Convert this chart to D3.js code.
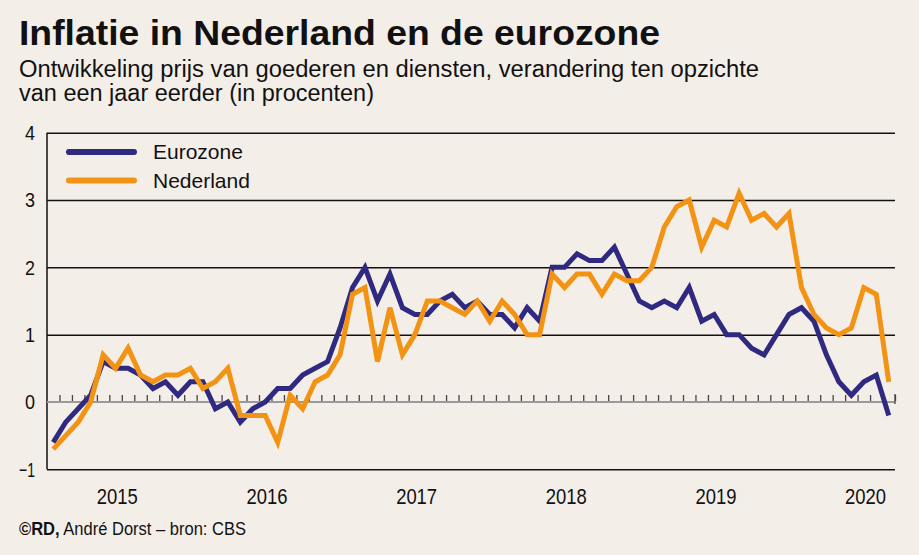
<!DOCTYPE html>
<html>
<head>
<meta charset="utf-8">
<script src="https://cdn.jsdelivr.net/npm/d3@7"></script>
<style>
  html, body { margin: 0; padding: 0; background: #f4eee9; }
  svg { display: block; }
  text { font-family: "Liberation Sans", Arial, sans-serif; fill: #111; }
</style>
</head>
<body>
<svg id="chart" width="919" height="555"></svg>
<script>
// ---- data ----
const months = d3.timeMonth.range(new Date(2015, 0, 1), new Date(2020, 8, 1)); // Jan 2015 .. Aug 2020
const yearLabels = ["2015", "2016", "2017", "2018", "2019", "2020"];
const yTicks = [-1, 0, 1, 2, 3, 4];
const eurozone = [
  -0.6, -0.3, -0.1, 0.1, 0.6, 0.5, 0.5, 0.4, 0.2, 0.3, 0.1, 0.3,
  0.3, -0.1, 0.0, -0.3, -0.1, 0.0, 0.2, 0.2, 0.4, 0.5, 0.6, 1.1,
  1.7, 2.0, 1.5, 1.9, 1.4, 1.3, 1.3, 1.5, 1.6, 1.4, 1.5, 1.3,
  1.3, 1.1, 1.4, 1.2, 2.0, 2.0, 2.2, 2.1, 2.1, 2.3, 1.9, 1.5,
  1.4, 1.5, 1.4, 1.7, 1.2, 1.3, 1.0, 1.0, 0.8, 0.7, 1.0, 1.3,
  1.4, 1.2, 0.7, 0.3, 0.1, 0.3, 0.4, -0.2
];
const nederland = [
  -0.7, -0.5, -0.3, 0.0, 0.7, 0.5, 0.8, 0.4, 0.3, 0.4, 0.4, 0.5,
  0.2, 0.3, 0.5, -0.2, -0.2, -0.2, -0.6, 0.1, -0.1, 0.3, 0.4, 0.7,
  1.6, 1.7, 0.6, 1.4, 0.7, 1.0, 1.5, 1.5, 1.4, 1.3, 1.5, 1.2,
  1.5, 1.3, 1.0, 1.0, 1.9, 1.7, 1.9, 1.9, 1.6, 1.9, 1.8, 1.8,
  2.0, 2.6, 2.9, 3.0, 2.3, 2.7, 2.6, 3.1, 2.7, 2.8, 2.6, 2.8,
  1.7, 1.3, 1.1, 1.0, 1.1, 1.7, 1.6, 0.3
];
const seriesNames = ["Eurozone", "Nederland"];
const seriesColors = ["#2f2a7f", "#f39314"];

// ---- layout ----
const svg = d3.select("#chart");
const W = 919, H = 555;
const plotL = 47, plotR = 895, plotT = 132.7, plotB = 469.3;

svg.append("rect").attr("width", W).attr("height", H).attr("fill", "#f4eee9");

const x = d3.scaleLinear().domain([-0.5, months.length - 0.5]).range([plotL, plotR]);
const y = d3.scaleLinear().domain([-1, 4]).range([plotB, plotT]);

// titles
svg.append("text").attr("x", 19).attr("y", 45)
  .attr("font-size", 35).attr("font-weight", 700)
  .attr("textLength", 641).attr("lengthAdjust", "spacingAndGlyphs")
  .text("Inflatie in Nederland en de eurozone");
svg.append("text").attr("x", 19).attr("y", 77)
  .attr("font-size", 23)
  .attr("textLength", 740).attr("lengthAdjust", "spacingAndGlyphs")
  .text("Ontwikkeling prijs van goederen en diensten, verandering ten opzichte");
svg.append("text").attr("x", 19).attr("y", 101)
  .attr("font-size", 23)
  .attr("textLength", 355).attr("lengthAdjust", "spacingAndGlyphs")
  .text("van een jaar eerder (in procenten)");

// gridlines + y labels
const yAxis = d3.axisLeft(y).tickValues(yTicks).tickSize(-(plotR - plotL)).tickPadding(12)
  .tickFormat(d3.format("d"));
const gy = svg.append("g").attr("transform", `translate(${plotL},0)`).call(yAxis);
gy.select(".domain").remove();
gy.selectAll(".tick line").attr("stroke-width", 1.5)
  .attr("stroke", d => d === 0 ? "none" : "#111");
gy.selectAll(".tick text").attr("font-size", 21).attr("fill", "#111")
  .attr("font-family", '"Liberation Sans", Arial, sans-serif')
  .attr("textLength", d => d < 0 ? 16 : 10).attr("lengthAdjust", "spacingAndGlyphs");

// left axis line
svg.append("line").attr("x1", plotL).attr("x2", plotL).attr("y1", y(4)).attr("y2", y(-1))
  .attr("stroke", "#111").attr("stroke-width", 1.5);

// zero line
svg.append("line").attr("x1", plotL).attr("x2", plotR).attr("y1", y(0)).attr("y2", y(0))
  .attr("stroke", "#9a9a9a").attr("stroke-width", 2);

// monthly ticks on zero line
const tickPos = d3.range(0.5, months.length, 1);
const mAxis = d3.axisTop(x).tickValues(tickPos).tickSize(6).tickFormat("");
const gm = svg.append("g").attr("transform", `translate(0,${y(0) - 1})`).call(mAxis);
gm.select(".domain").remove();
gm.selectAll(".tick line").attr("stroke", "#444").attr("stroke-width", 1.3);
// end tick
svg.append("line").attr("x1", plotR).attr("x2", plotR).attr("y1", y(0) - 8).attr("y2", y(0) + 2)
  .attr("stroke", "#444").attr("stroke-width", 1.3);

// year labels (centred on the year)
const yearPos = yearLabels.map((d, i) => 12 * i + 5.1);
const xAxis = d3.axisBottom(x).tickValues(yearPos).tickSize(0).tickPadding(0)
  .tickFormat((d, i) => yearLabels[i]);
const gx = svg.append("g").attr("transform", `translate(0,${plotB + 27})`).call(xAxis);
gx.select(".domain").remove();
gx.selectAll(".tick text").attr("font-size", 22).attr("fill", "#111")
  .attr("font-family", '"Liberation Sans", Arial, sans-serif')
  .attr("dy", "0.35em")
  .attr("textLength", 41).attr("lengthAdjust", "spacingAndGlyphs");

// lines
const line = d3.line().x((d, i) => x(i)).y(d => y(d)).curve(d3.curveLinear);
[eurozone, nederland].forEach((s, k) => {
  svg.append("path").datum(s).attr("d", line)
    .attr("fill", "none").attr("stroke", seriesColors[k]).attr("stroke-width", 5)
    .attr("stroke-linejoin", "miter").attr("stroke-miterlimit", 3).attr("stroke-linecap", "butt");
});

// legend
seriesNames.forEach((name, k) => {
  const ly = 152 + k * 28.5;
  svg.append("line").attr("x1", 69).attr("x2", 134).attr("y1", ly).attr("y2", ly)
    .attr("stroke", seriesColors[k]).attr("stroke-width", 6).attr("stroke-linecap", "round");
  svg.append("text").attr("x", 153).attr("y", ly).attr("dy", "0.35em")
    .attr("font-size", 21).attr("fill", "#222").text(name);
});

// footer
const foot = svg.append("text").attr("x", 19).attr("y", 535).attr("font-size", 17.5)
  .attr("textLength", 227).attr("lengthAdjust", "spacingAndGlyphs");
foot.append("tspan").attr("font-weight", 700).text("©RD,");
foot.append("tspan").text(" André Dorst – bron: CBS");
</script>
</body>
</html>
